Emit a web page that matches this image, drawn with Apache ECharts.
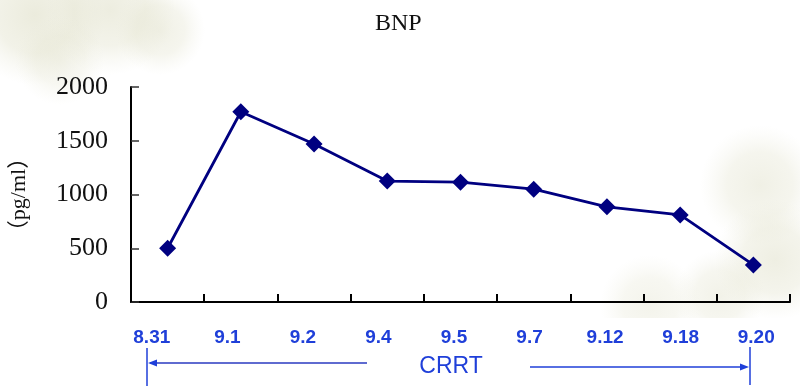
<!DOCTYPE html>
<html>
<head>
<meta charset="utf-8">
<script src="https://cdn.jsdelivr.net/npm/echarts@6/dist/echarts.min.js"></script>
<style>
html,body{margin:0;padding:0;background:#fff;}
#c{width:800px;height:391px;}
</style>
</head>
<body>
<div id="c"></div>
<script>
var categories = ['8.31','9.1','9.2','9.4','9.5','9.7','9.12','9.18','9.20'];
var bnpValues = [500, 1770, 1470, 1125, 1115, 1050, 885, 810, 345];
var yTicks = {min: 0, max: 2000, interval: 500};
var titleText = 'BNP';
var yAxisName = '（pg/ml）';
var bracketText = 'CRRT';

var chart = echarts.init(document.getElementById('c'), null, {renderer: 'canvas'});
var blue = '#1f3fd9';
function blob(cx, cy, r, a) {
  return {type: 'circle', silent: true, z: -10, shape: {cx: cx, cy: cy, r: r},
    style: {fill: new echarts.graphic.RadialGradient(0.5, 0.5, 0.5, [
      {offset: 0, color: 'rgba(222,222,198,' + a + ')'},
      {offset: 0.55, color: 'rgba(226,226,204,' + (a * 0.75) + ')'},
      {offset: 1, color: 'rgba(235,235,220,0)'}])}};
}
var option = {
  backgroundColor: '#ffffff',
  animation: false,
  title: {
    text: titleText, left: 370, top: 7,
    textStyle: {fontFamily: 'Liberation Serif', fontSize: 24, fontWeight: 'normal', color: '#111'}
  },
  grid: [
    {left: 131, right: 10, top: 87, bottom: 89},
    {left: 114, width: 680, top: 87, bottom: 89}
  ],
  xAxis: [
    {
      type: 'category', gridIndex: 0, data: categories, boundaryGap: true,
      axisLine: {lineStyle: {color: '#000', width: 2}},
      axisTick: {show: true, inside: true, length: 8, interval: 0, lineStyle: {color: '#000', width: 2}},
      axisLabel: {show: false}
    },
    {
      type: 'category', gridIndex: 1, data: categories, boundaryGap: true,
      axisLine: {show: false}, axisTick: {show: false},
      axisLabel: {show: true, interval: 0, margin: 26, color: blue,
        fontFamily: 'Liberation Sans', fontWeight: 'bold', fontSize: 19}
    }
  ],
  yAxis: [
    {
      type: 'value', gridIndex: 0, min: yTicks.min, max: yTicks.max, interval: yTicks.interval,
      name: yAxisName, nameLocation: 'middle', nameGap: 101, nameRotate: 90,
      nameTextStyle: {fontFamily: '"Liberation Serif", "Noto Sans CJK SC"', fontSize: 22, color: '#111'},
      axisLine: {show: true, lineStyle: {color: '#000', width: 2}},
      axisTick: {show: true, inside: true, length: 8, lineStyle: {color: '#333', width: 1.5}},
      splitLine: {show: false},
      axisLabel: {margin: 23, color: '#111', fontFamily: 'Liberation Serif', fontSize: 26,
        formatter: function (v) { return String(v); }}
    },
    {type: 'value', gridIndex: 1, show: false, min: 0, max: 1}
  ],
  series: [{
    type: 'line', xAxisIndex: 0, yAxisIndex: 0, data: bnpValues,
    symbol: 'diamond', symbolSize: 17,
    itemStyle: {color: '#000080'},
    lineStyle: {color: '#000080', width: 2.8}
  }],
  graphic: [
    blob(35, 15, 70, 0.6),
    blob(110, 10, 65, 0.55),
    blob(160, 30, 45, 0.45),
    blob(60, 60, 45, 0.35),
    blob(760, 185, 60, 0.45),
    blob(775, 260, 60, 0.5),
    blob(720, 295, 45, 0.4),
    blob(650, 305, 50, 0.35),
    {type: 'rect', silent: true, z: -5, shape: {x: 480, y: 318, width: 320, height: 73}, style: {fill: '#fff'}},
    {type: 'line', silent: true, shape: {x1: 147, y1: 348, x2: 147, y2: 386}, style: {stroke: blue, lineWidth: 1.5}},
    {type: 'line', silent: true, shape: {x1: 150, y1: 363, x2: 367, y2: 363}, style: {stroke: '#2a3ac0', lineWidth: 1.5}},
    {type: 'polygon', silent: true, shape: {points: [[148, 363], [157, 359.5], [157, 366.5]]}, style: {fill: blue}},
    {type: 'line', silent: true, shape: {x1: 750, y1: 347, x2: 750, y2: 385}, style: {stroke: blue, lineWidth: 1.5}},
    {type: 'line', silent: true, shape: {x1: 530, y1: 367, x2: 745, y2: 367}, style: {stroke: blue, lineWidth: 1.5}},
    {type: 'polygon', silent: true, shape: {points: [[749, 367], [740, 363.5], [740, 370.5]]}, style: {fill: blue}},
    {type: 'text', silent: true, style: {text: bracketText, x: 451, y: 367, textAlign: 'center', textVerticalAlign: 'middle',
      font: '23px "Liberation Sans"', fill: blue}}
  ]
};
chart.setOption(option);
</script>
</body>
</html>
